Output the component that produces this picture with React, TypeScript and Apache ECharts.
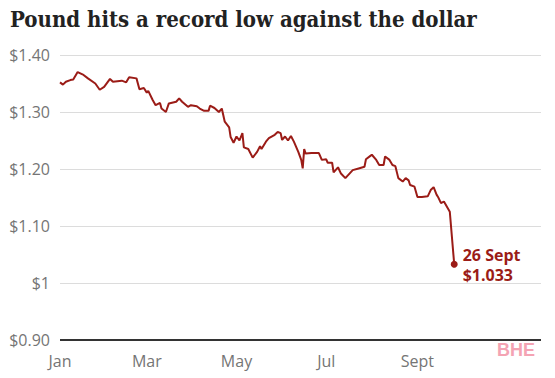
import React, { useEffect, useRef } from "react";
import * as echarts from "echarts";

// Day of year (1 Jan 2022 = 0) and GBP/USD rate
const days = [0, 2, 4, 7, 9, 12, 16, 19, 24, 27, 30, 34, 36, 42, 45, 47, 52, 54, 57, 59, 60, 63, 65, 68, 69, 72, 74, 79, 81, 83, 87, 89, 93, 95, 98, 101, 102, 105, 108, 110, 112, 115, 116, 118, 120, 122, 124, 125, 128, 131, 134, 136, 137, 140, 142, 146, 148, 150, 151, 153, 155, 157, 159, 162, 164, 165, 166, 167, 171, 176, 178, 181, 182, 185, 186, 189, 191, 194, 199, 203, 207, 208, 211, 212, 215, 217, 220, 221, 224, 226, 228, 230, 233, 235, 237, 238, 241, 243, 246, 250, 252, 254, 256, 257, 259, 261, 265, 268];
const rates = [1.352, 1.348, 1.353, 1.356, 1.357, 1.370, 1.365, 1.359, 1.350, 1.339, 1.344, 1.358, 1.353, 1.355, 1.352, 1.361, 1.359, 1.340, 1.342, 1.334, 1.337, 1.321, 1.312, 1.316, 1.306, 1.300, 1.315, 1.318, 1.324, 1.318, 1.309, 1.312, 1.310, 1.306, 1.302, 1.302, 1.311, 1.307, 1.300, 1.306, 1.283, 1.273, 1.256, 1.246, 1.257, 1.250, 1.263, 1.238, 1.235, 1.220, 1.230, 1.240, 1.235, 1.248, 1.254, 1.260, 1.265, 1.263, 1.251, 1.257, 1.250, 1.258, 1.248, 1.230, 1.216, 1.201, 1.235, 1.227, 1.228, 1.228, 1.216, 1.217, 1.211, 1.211, 1.194, 1.203, 1.192, 1.184, 1.198, 1.201, 1.204, 1.217, 1.223, 1.225, 1.216, 1.207, 1.207, 1.222, 1.216, 1.207, 1.205, 1.184, 1.178, 1.184, 1.180, 1.172, 1.169, 1.151, 1.151, 1.152, 1.163, 1.168, 1.155, 1.151, 1.140, 1.143, 1.125, 1.033];

const monthTickDays = [0, 59, 120, 181, 243];
const monthTickLabels = ["Jan", "Mar", "May", "Jul", "Sept"];
const yTicks = [0.9, 1.0, 1.1, 1.2, 1.3, 1.4];

const lastLabel = ["26 Sept", "$1.033"];

const RED = "#9b1c17";
const SANS = "Open Sans";

export default function App() {
  const ref = useRef<HTMLDivElement>(null);

  useEffect(() => {
    if (!ref.current) return;
    const chart = echarts.init(ref.current, null, { renderer: "svg" });
    const lineData = days.map((d, i) => [d, rates[i]]);
    const last = lineData[lineData.length - 1];
    chart.setOption({
      animation: false,
      backgroundColor: "#ffffff",
      title: {
        text: "Pound hits a record low against the dollar",
        left: 5,
        top: 3,
        textStyle: {
          fontFamily: "DejaVu Serif Condensed",
          fontWeight: "bold",
          fontSize: 22,
          color: "#222222",
        },
      },
      grid: { left: 60, right: 14, top: 55, bottom: 38 },
      xAxis: {
        type: "value",
        min: 0,
        max: 327,
        splitLine: { show: false },
        axisLine: { show: false },
        axisTick: { show: false },
        axisLabel: {
          customValues: monthTickDays,
          formatter: (v: number) => monthTickLabels[monthTickDays.indexOf(v)] ?? "",
          fontFamily: SANS,
          fontSize: 16,
          color: "#757575",
          margin: 13,
        },
      },
      yAxis: {
        type: "value",
        min: yTicks[0],
        max: yTicks[yTicks.length - 1],
        interval: 0.1,
        axisLine: { show: false },
        axisTick: { show: false },
        splitLine: { lineStyle: { color: "#dcdcdc", width: 1 } },
        axisLabel: {
          formatter: (v: number) => (Math.abs(v - 1) < 1e-9 ? "$1" : "$" + v.toFixed(2)),
          fontFamily: SANS,
          fontSize: 16,
          color: "#757575",
          margin: 10,
        },
      },
      series: [
        {
          type: "line",
          data: lineData,
          showSymbol: false,
          symbol: "none",
          lineStyle: { color: RED, width: 2 },
          markLine: {
            silent: true,
            symbol: "none",
            label: { show: false },
            lineStyle: { color: "#333333", width: 2, type: "solid" },
            data: [{ yAxis: yTicks[0] }],
          },
        },
        {
          type: "scatter",
          data: [last],
          symbol: "circle",
          symbolSize: 7,
          itemStyle: { color: RED, opacity: 1 },
          label: {
            show: true,
            position: "right",
            distance: 5,
            formatter: lastLabel.join("\n"),
            fontFamily: SANS,
            fontWeight: "bold",
            fontSize: 16,
            lineHeight: 20,
            color: RED,
            offset: [0, 1],
          },
        },
      ],
      graphic: [
        {
          type: "text",
          right: 20,
          top: 341,
          style: {
            text: "BHE",
            font: "bold 18px 'Liberation Sans', Arial, sans-serif",
            fill: "#f4a3b3",
          },
        },
      ],
    });
    return () => chart.dispose();
  }, []);

  return (
    <div
      ref={ref}
      style={{ position: "fixed", left: 0, top: 0, width: 555, height: 378 }}
    />
  );
}
